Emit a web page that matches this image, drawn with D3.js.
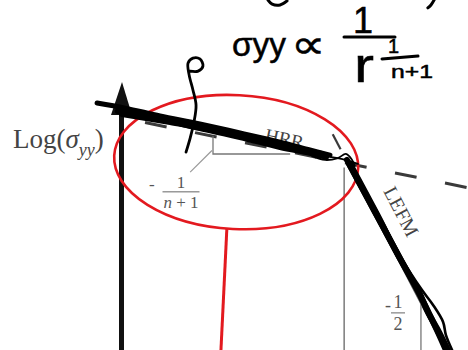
<!DOCTYPE html>
<html>
<head>
<meta charset="utf-8">
<script src="https://cdn.jsdelivr.net/npm/d3@7"></script>
<style>
  html, body { margin: 0; padding: 0; background: #fff; }
  svg { display: block; }
</style>
</head>
<body>
<svg id="chart" width="468" height="350"></svg>
<script>
// ---- log-log stress field: chart units are log r (x) and log sigma_yy (y) ----

// printed HRR asymptote (slope -1/(n+1)), dashed
const hrrLine = [[0, 8.596], [10, 6.011]];
// printed LEFM asymptote (slope -1/2): short dashed extension, break point, foot
const lefmLine = [[6.05, 8.09], [6.53, 6.91], [9.34, 0]];
// vertical drop from the break point to the r axis
const dropLine = [[6.42, 6.76], [6.42, 0]];
// slope triangle under the HRR line
const hrrTriangle = [[2.63, 7.916], [2.63, 7.26], [4.86, 7.26]];
const hrrLeader = [[2.60, 7.39], [1.97, 6.59]];
// slope mark under the LEFM line
const lefmTick = [[8.64, 2.30], [8.64, 0]];

// marker ink traced over the two regimes
const hrrInk = [
  [[-0.72, 9.15], [0.09, 8.96], [1.10, 8.67], [2.25, 8.37], [3.41, 8.04], [4.57, 7.70], [5.43, 7.41], [6.01, 7.22]],
  [[-0.12, 8.85], [1.10, 8.56], [2.25, 8.22], [3.41, 7.89], [4.57, 7.52], [5.43, 7.30], [5.90, 7.15]],
  [[0, 8.74], [1.39, 8.44], [2.83, 8.11], [4.28, 7.67], [5.29, 7.37], [5.78, 7.26]]
];
const kneeInk = [
  [[5.49, 7.19], [5.87, 7.04], [6.24, 7.11], [6.47, 7.26], [6.65, 7.04], [6.73, 6.81]],
  [[6.01, 7.15], [6.45, 7.04], [6.82, 6.89]]
];
const lefmInk = [
  [[6.50, 7.04], [7.31, 5.11], [8.03, 3.41], [8.61, 2.04], [9.10, 0.74], [9.36, 0]],
  [[6.62, 6.96], [7.42, 5.04], [8.11, 3.33], [8.67, 2.22], [8.99, 1.67], [9.28, 1.04], [9.36, 0.56], [9.54, 0]],
  [[6.56, 6.90], [7.37, 4.98], [8.07, 3.30], [8.58, 2.15], [8.84, 1.41], [9.13, 0.74], [9.42, 0]]
];
const pointerInk = [[1.97, 10.33], [2.20, 10.33], [2.34, 10.52], [2.25, 10.78], [2.05, 10.81], [1.91, 10.63],
  [1.94, 10.19], [2.05, 9.63], [2.14, 9.07], [2.08, 8.44], [1.97, 7.85], [1.85, 7.33]];
const topInk = [
  [[4.22, 12.96], [4.34, 12.81], [4.57, 12.78], [4.77, 12.93]],
  [[9.02, 12.96], [8.93, 12.78], [8.84, 12.67]]
];

// highlighted HRR zone and its callout stem
const zoneCenter = [3.3, 6.96];
const zoneRadii = [3.53, 2.48];
const zoneStem = [[3.03, 4.48], [2.86, 0]];

// labels
const yLabel = "Log(";
const hrrLabel = "HRR";
const lefmLabel = "LEFM";

const svg = d3.select("#chart");
const x = d3.scaleLinear().domain([0, 10]).range([122, 468]);
const y = d3.scaleLinear().domain([0, 10]).range([350, 80]);

const straight = d3.line().x(d => x(d[0])).y(d => y(d[1]));
const smooth = d3.line().x(d => x(d[0])).y(d => y(d[1])).curve(d3.curveCatmullRom.alpha(0.5));

// ---- printed figure ----
const printed = svg.append("g");

printed.append("path").attr("d", straight(hrrLine))
  .attr("fill", "none").attr("stroke", "#3a3a3a").attr("stroke-width", 3)
  .attr("stroke-dasharray", "22 29").attr("stroke-dashoffset", 27.5);

printed.append("path").attr("d", straight(lefmLine.slice(0, 2)))
  .attr("fill", "none").attr("stroke", "#3a3a3a").attr("stroke-width", 2.2)
  .attr("stroke-dasharray", "17 200").attr("stroke-dashoffset", -3);
printed.append("path").attr("d", straight(lefmLine.slice(1)))
  .attr("fill", "none").attr("stroke", "#555").attr("stroke-width", 1.6);

printed.append("path").attr("d", straight(dropLine))
  .attr("fill", "none").attr("stroke", "#666").attr("stroke-width", 1.3);
printed.append("path").attr("d", straight(hrrTriangle))
  .attr("fill", "none").attr("stroke", "#777").attr("stroke-width", 1.3);
printed.append("path").attr("d", straight(hrrLeader))
  .attr("fill", "none").attr("stroke", "#999").attr("stroke-width", 1.2);
printed.append("path").attr("d", straight(lefmTick))
  .attr("fill", "none").attr("stroke", "#777").attr("stroke-width", 1.3);

// y axis with arrow head
printed.append("line")
  .attr("x1", x(0) - 0.5).attr("x2", x(0) - 0.5)
  .attr("y1", y(8.7)).attr("y2", y(0))
  .attr("stroke", "#111").attr("stroke-width", 5);
printed.append("path")
  .attr("d", `M${x(0)},${y(9.93)} L${x(0) - 11},${y(8.70)} L${x(0) + 10},${y(8.70)} Z`)
  .attr("fill", "#111");

// axis title
const serif = "'Liberation Serif', 'DejaVu Serif', serif";
const yl = printed.append("text")
  .attr("x", 13).attr("y", 148)
  .attr("font-family", serif).attr("font-size", 27).attr("fill", "#444");
yl.append("tspan").text(yLabel);
yl.append("tspan").attr("font-style", "italic").text("σ");
yl.append("tspan").attr("font-style", "italic").attr("font-size", 18).attr("dy", 8).text("yy");
yl.append("tspan").attr("dy", -8).text(")");

// regime labels along the asymptotes
printed.append("text")
  .attr("transform", `translate(264,141) rotate(12)`)
  .attr("font-family", serif).attr("font-size", 19).attr("fill", "#444")
  .text(hrrLabel);
printed.append("text")
  .attr("transform", `translate(383,191) rotate(62.6)`)
  .attr("font-family", serif).attr("font-size", 20).attr("fill", "#444")
  .text(lefmLabel);

// slope fractions
function fraction(cx, top, num, den, minusX, barW, size) {
  const g = printed.append("g").attr("font-family", serif).attr("font-size", size).attr("fill", "#555");
  g.append("text").attr("x", minusX).attr("y", top + size * 0.95).text("-");
  g.append("text").attr("x", cx).attr("y", top + size * 0.8).attr("text-anchor", "middle").text(num);
  g.append("line").attr("x1", cx - barW / 2).attr("x2", cx + barW / 2)
    .attr("y1", top + size * 1.05).attr("y2", top + size * 1.05)
    .attr("stroke", "#666").attr("stroke-width", 1);
  const d = g.append("text").attr("x", cx).attr("y", top + size * 2.0).attr("text-anchor", "middle");
  den.forEach(p => d.append("tspan").attr("font-style", p.i ? "italic" : null).text(p.t));
}
fraction(181, 174, "1", [{t: "n", i: true}, {t: " + 1"}], 149, 37, 17);
fraction(398, 294, "1", [{t: "2"}], 385, 14, 18);

// ---- red highlight ----
const red = "#e3191f";
svg.append("ellipse")
  .attr("cx", x(zoneCenter[0])).attr("cy", y(zoneCenter[1]))
  .attr("rx", x(zoneCenter[0] + zoneRadii[0]) - x(zoneCenter[0]))
  .attr("ry", y(zoneCenter[1] - zoneRadii[1]) - y(zoneCenter[1]))
  .attr("transform", `rotate(3 ${x(zoneCenter[0])} ${y(zoneCenter[1])})`)
  .attr("fill", "none").attr("stroke", red).attr("stroke-width", 2.6);
svg.append("path").attr("d", straight(zoneStem))
  .attr("fill", "none").attr("stroke", red).attr("stroke-width", 3);

// ---- marker ink ----
const ink = svg.append("g").attr("fill", "none").attr("stroke", "#000")
  .attr("stroke-linecap", "round").attr("stroke-linejoin", "round");
hrrInk.forEach((s, i) => ink.append("path").attr("d", smooth(s)).attr("stroke-width", i === 0 ? 5 : 6));
kneeInk.forEach(s => ink.append("path").attr("d", smooth(s)).attr("stroke-width", 1.8));
lefmInk.forEach((s, i) => ink.append("path").attr("d", smooth(s)).attr("stroke-width", i === 1 ? 2.6 : 6));
ink.append("path").attr("d", smooth(pointerInk)).attr("stroke-width", 2.8);
topInk.forEach(s => ink.append("path").attr("d", smooth(s)).attr("stroke-width", 3));

// handwritten proportionality
const hand = svg.append("g").attr("font-family", "'Liberation Sans', Arial, sans-serif")
  .attr("fill", "#000").attr("stroke", "#000").attr("stroke-width", 0.5);
hand.append("text").attr("x", 232).attr("y", 56).attr("font-size", 34)
  .attr("textLength", 54).attr("lengthAdjust", "spacingAndGlyphs").text("σyy");
hand.append("text").attr("x", 291).attr("y", 58).attr("font-size", 40)
  .attr("textLength", 35).attr("lengthAdjust", "spacingAndGlyphs").text("∝");
hand.append("text").attr("x", 353).attr("y", 33).attr("font-size", 36).text("1");
hand.append("text").attr("x", 354).attr("y", 82).attr("font-size", 48)
  .attr("textLength", 20).attr("lengthAdjust", "spacingAndGlyphs").text("r");
hand.append("text").attr("x", 388).attr("y", 53).attr("font-size", 20).text("1");
hand.append("text").attr("x", 391).attr("y", 78).attr("font-size", 19)
  .attr("textLength", 42).attr("lengthAdjust", "spacingAndGlyphs").text("n+1");
ink.append("line").attr("x1", 344).attr("x2", 395).attr("y1", 37).attr("y2", 37).attr("stroke-width", 3);
ink.append("line").attr("x1", 382).attr("x2", 418).attr("y1", 59).attr("y2", 56).attr("stroke-width", 3);
</script>
</body>
</html>
